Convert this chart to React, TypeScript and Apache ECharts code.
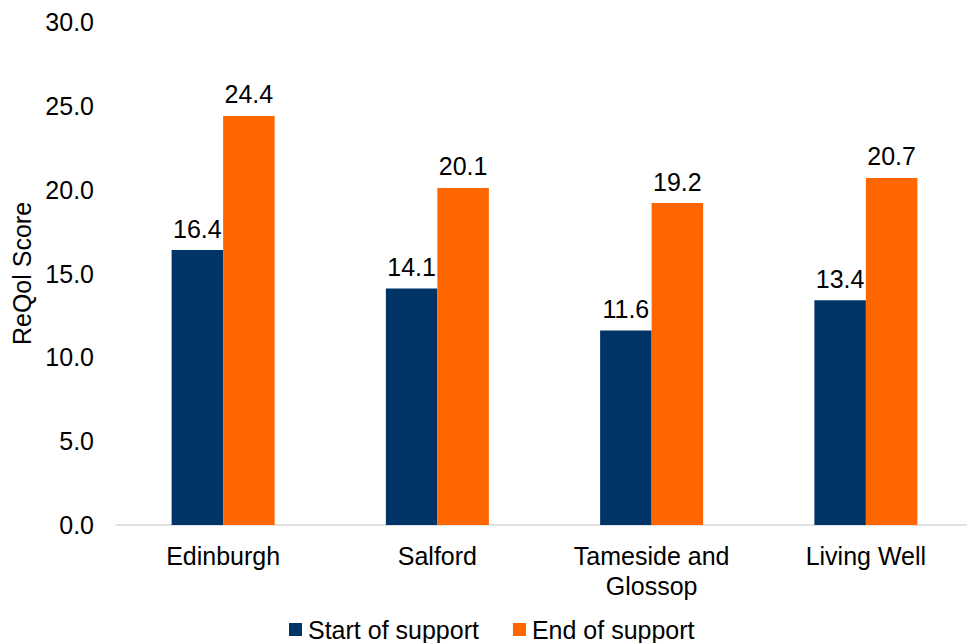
import React, { useEffect, useRef } from "react";
import * as echarts from "echarts";

const categories = ["Edinburgh", "Salford", "Tameside and\nGlossop", "Living Well"];
const startValues = [16.4, 14.1, 11.6, 13.4];
const endValues = [24.4, 20.1, 19.2, 20.7];
const seriesNames = ["Start of support", "End of support"];
const yAxisName = "ReQol Score";

const FONT = "'Liberation Sans', Arial, sans-serif";

export default function App() {
  const ref = useRef<HTMLDivElement>(null);
  useEffect(() => {
    if (!ref.current) return;
    const chart = echarts.init(ref.current, null, { renderer: "svg" });
    const labelStyle = {
      show: true,
      position: "top" as const,
      distance: 9,
      fontSize: 25,
      color: "#000",
      fontFamily: FONT,
      formatter: (p: any) => Number(p.value).toFixed(1),
    };
    chart.setOption({
      animation: false,
      textStyle: { fontFamily: FONT },
      grid: {
        left: 116,
        right: -6,
        top: 22,
        bottom: 118,
        containLabel: false,
        outerBoundsMode: "none",
      },
      legend: {
        left: 284,
        top: 612,
        itemWidth: 13,
        itemHeight: 13,
        itemGap: 34,
        icon: "rect",
        textStyle: { fontSize: 25, color: "#000", fontFamily: FONT, padding: [0, 0, 0, 1] },
        data: seriesNames,
      },
      xAxis: {
        type: "category",
        data: categories,
        axisLine: { lineStyle: { color: "#d9d9d9", width: 1.5 } },
        axisTick: { show: false },
        axisLabel: {
          fontSize: 25,
          color: "#000",
          fontFamily: FONT,
          margin: 16,
          lineHeight: 30,
          interval: 0,
        },
      },
      yAxis: {
        type: "value",
        min: 0,
        max: 30,
        interval: 5,
        name: yAxisName,
        nameLocation: "middle",
        nameGap: 82,
        nameRotate: 90,
        nameTextStyle: { fontSize: 25, color: "#000", fontFamily: FONT },
        axisLine: { show: false },
        axisTick: { show: false },
        splitLine: { show: false },
        axisLabel: {
          fontSize: 25,
          color: "#000",
          fontFamily: FONT,
          margin: 22,
          formatter: (v: number) => v.toFixed(1),
        },
      },
      series: [
        {
          name: seriesNames[0],
          type: "bar",
          data: startValues,
          barWidth: 51.5,
          barGap: "0%",
          itemStyle: { color: "#003366" },
          label: labelStyle,
        },
        {
          name: seriesNames[1],
          type: "bar",
          data: endValues,
          barWidth: 51.5,
          barGap: "0%",
          itemStyle: { color: "#FF6600" },
          label: labelStyle,
        },
      ],
    });
    return () => chart.dispose();
  }, []);
  return <div ref={ref} style={{ width: 967, height: 643, position: "absolute", left: 0, top: 0 }} />;
}
